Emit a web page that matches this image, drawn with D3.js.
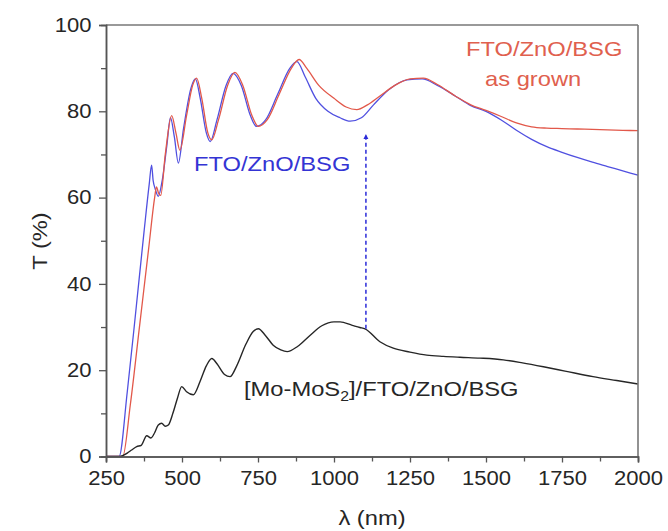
<!DOCTYPE html>
<html>
<head>
<meta charset="utf-8">
<script src="https://cdn.jsdelivr.net/npm/d3@7"></script>
<style>
  html, body { margin: 0; padding: 0; background: #fff; }
  svg { display: block; font-family: "Liberation Sans", Arial, sans-serif; }
</style>
</head>
<body>
<svg id="chart" width="668" height="531"></svg>
<script>
// Wavelength grid (nm) and transmittance (%) for each sample
const asGrownNm = [250, 305, 330, 360, 390, 410, 416, 423, 430, 445, 466, 480, 493, 515, 535, 548, 565, 585, 598, 620, 650, 674, 700, 730, 751, 780, 820, 860, 885, 910, 950, 1000, 1040, 1075, 1110, 1150, 1200, 1250, 1294, 1340, 1400, 1450, 1500, 1550, 1600, 1650, 1700, 1750, 1800, 1850, 1900, 1950, 2000];
const asGrownT  = [0, 0, 12, 30, 48, 60, 62.5, 61, 60.5, 70, 79, 75, 71, 79, 86, 87.7, 83, 75, 73.4, 78, 86, 89, 86, 79, 76.5, 78, 84, 90, 92, 90, 86, 83, 81, 80.4, 81.5, 83.5, 86, 87.5, 87.7, 86.2, 83.5, 81.5, 80.2, 78.8, 77.3, 76.4, 76.1, 76, 75.9, 75.8, 75.7, 75.6, 75.5];

const annealedNm = [250, 293, 320, 350, 375, 392, 400, 405, 412, 422, 435, 450, 462, 475, 488, 505, 530, 544, 560, 580, 593, 615, 645, 668, 695, 725, 745, 775, 815, 855, 878, 905, 940, 980, 1020, 1053, 1090, 1130, 1180, 1240, 1290, 1340, 1400, 1450, 1500, 1550, 1600, 1650, 1700, 1750, 1800, 1850, 1900, 1950, 2000];
const annealedT  = [0, 0, 15, 35, 52, 63, 67.5, 64, 62, 60.3, 64, 72, 78.5, 74, 68, 76, 85.5, 87.5, 83, 75, 73, 78, 86, 88.8, 86, 79, 76.5, 78, 84, 90, 91.5, 88, 83, 80, 78.5, 77.7, 78.5, 81.5, 85, 87.3, 87.5, 86, 83.5, 81.3, 80, 78, 75.6, 73.5, 71.8, 70.5, 69.3, 68.2, 67.2, 66.2, 65.2];

const moNm = [250, 296, 320, 334, 351, 366, 384, 398, 410, 422, 433, 445, 455, 470, 485, 499, 515, 537, 560, 580, 598, 615, 640, 658, 680, 710, 735, 751, 775, 800, 825, 846, 880, 920, 960, 1000, 1020, 1060, 1085, 1102, 1151, 1195, 1250, 1305, 1360, 1414, 1480, 1557, 1620, 1689, 1760, 1852, 1930, 2000];
const moT  = [0, 0, 0.8, 1.5, 2.3, 2.6, 4.8, 4.3, 5.5, 7.3, 7.7, 7, 7.3, 10, 13.5, 16.2, 15, 14.3, 17.5, 21, 22.7, 21.5, 19, 18.5, 21, 26, 29, 29.6, 28, 25.8, 24.7, 24.3, 25.5, 28, 30.3, 31.2, 31.2, 30.4, 29.9, 29.6, 26.6, 25.1, 24.2, 23.5, 23.2, 23.0, 22.8, 22.4, 21.7, 20.8, 19.8, 18.5, 17.6, 16.8];

// Axis ticks
const xMajor = [250, 500, 750, 1000, 1250, 1500, 1750, 2000];
const xMinor = [375, 625, 875, 1125, 1375, 1625, 1875];
const yMajor = [0, 20, 40, 60, 80, 100];
const yMinor = [10, 30, 50, 70, 90];

// Annotation: heat-treatment arrow at a fixed wavelength
const arrowNm = 1105;
const arrowFrom = 29.6;
const arrowTo = 74.6;

const svg = d3.select("#chart");
const plotLeft = 106, plotRight = 638, plotTop = 25, plotBottom = 456.5;
const stretch = 1.13;

const x = d3.scaleLinear().domain([250, 2000]).range([plotLeft, plotRight]);
const y = d3.scaleLinear().domain([0, 100]).range([plotBottom, plotTop]);

const line = d3.line()
  .x(d => x(d[0]))
  .y(d => y(d[1]))
  .curve(d3.curveMonotoneX);

function drawSeries(nm, t, color, width) {
  svg.append("path")
    .datum(nm.map((v, i) => [v, t[i]]))
    .attr("fill", "none")
    .attr("stroke", color)
    .attr("stroke-width", width)
    .attr("stroke-linejoin", "round")
    .attr("d", line);
}

drawSeries(annealedNm, annealedT, "#5050e0", 1.3);
drawSeries(asGrownNm, asGrownT, "#e2584a", 1.3);
drawSeries(moNm, moT, "#262626", 1.4);

// Frame: top and right borders
svg.append("line").attr("x1", plotLeft).attr("x2", plotRight).attr("y1", plotTop).attr("y2", plotTop)
  .attr("stroke", "#777").attr("stroke-width", 1.6);
svg.append("line").attr("x1", plotRight).attr("x2", plotRight).attr("y1", plotTop).attr("y2", plotBottom)
  .attr("stroke", "#777").attr("stroke-width", 1.6);

// Axes
const xAxisMinor = d3.axisBottom(x).tickValues(xMinor).tickSize(5).tickFormat("");
const xAxis = d3.axisBottom(x).tickValues(xMajor).tickSize(6).tickPadding(9).tickFormat(d3.format("d"));
const yAxisMinor = d3.axisLeft(y).tickValues(yMinor).tickSize(5).tickFormat("");
const yAxis = d3.axisLeft(y).tickValues(yMajor).tickSize(7).tickPadding(6).tickFormat(d3.format("d"));

function styleAxis(g) {
  g.select(".domain").attr("stroke", "#555").attr("stroke-width", 1.5);
  g.selectAll(".tick line").attr("stroke", "#555").attr("stroke-width", 1.3);
  g.selectAll("text").attr("fill", "#262626").attr("font-size", 19.5)
    .attr("font-family", "Liberation Sans, Arial, sans-serif");
}

svg.append("g").attr("transform", `translate(0,${plotBottom})`).call(xAxisMinor).call(styleAxis);
const gx = svg.append("g").attr("transform", `translate(0,${plotBottom})`).call(xAxis).call(styleAxis);
svg.append("g").attr("transform", `translate(${plotLeft},0)`).call(yAxisMinor).call(styleAxis);
const gy = svg.append("g").attr("transform", `translate(${plotLeft},0)`).call(yAxis).call(styleAxis);

gx.selectAll(".tick text").attr("transform", `scale(${stretch},1)`);
gy.selectAll(".tick text").attr("x", -14.5 / stretch).attr("transform", `scale(${stretch},1)`);

// Text helper with horizontal stretch
function label(tx, ty, str, opts = {}) {
  const g = svg.append("g").attr("transform", `translate(${tx},${ty}) rotate(${opts.rotate || 0}) scale(${stretch},1)`);
  const t = g.append("text")
    .attr("font-size", opts.size || 21)
    .attr("fill", opts.color || "#262626")
    .attr("text-anchor", opts.anchor || "start");
  return t.text(str);
}

// Axis titles
label(372, 525, "λ (nm)", { anchor: "middle" });
label(47, 241, "T (%)", { anchor: "middle", rotate: -90 });

// Series labels
label(466, 56, "FTO/ZnO/BSG", { color: "#e0604e" });
label(485, 86, "as grown", { color: "#e0604e" });
label(194, 171, "FTO/ZnO/BSG", { color: "#3434d4" });

const mo = label(244, 396, "", {});
mo.append("tspan").text("[Mo-MoS");
mo.append("tspan").attr("font-size", 14).attr("dy", 5).text("2");
mo.append("tspan").attr("dy", -5).text("]/FTO/ZnO/BSG");

// Dashed arrow
svg.append("defs").append("marker")
  .attr("id", "head")
  .attr("viewBox", "0 0 10 10")
  .attr("refX", 9).attr("refY", 5)
  .attr("markerWidth", 5).attr("markerHeight", 7)
  .attr("markerUnits", "userSpaceOnUse")
  .attr("orient", "auto")
  .append("path").attr("d", "M0,0 L10,5 L0,10 Z").attr("fill", "#2a2ad8");

svg.append("line")
  .attr("x1", x(arrowNm)).attr("x2", x(arrowNm))
  .attr("y1", y(arrowFrom)).attr("y2", y(arrowTo))
  .attr("stroke", "#2a2ad8").attr("stroke-width", 1.5)
  .attr("stroke-dasharray", "4,3")
  .attr("marker-end", "url(#head)");
</script>
</body>
</html>
